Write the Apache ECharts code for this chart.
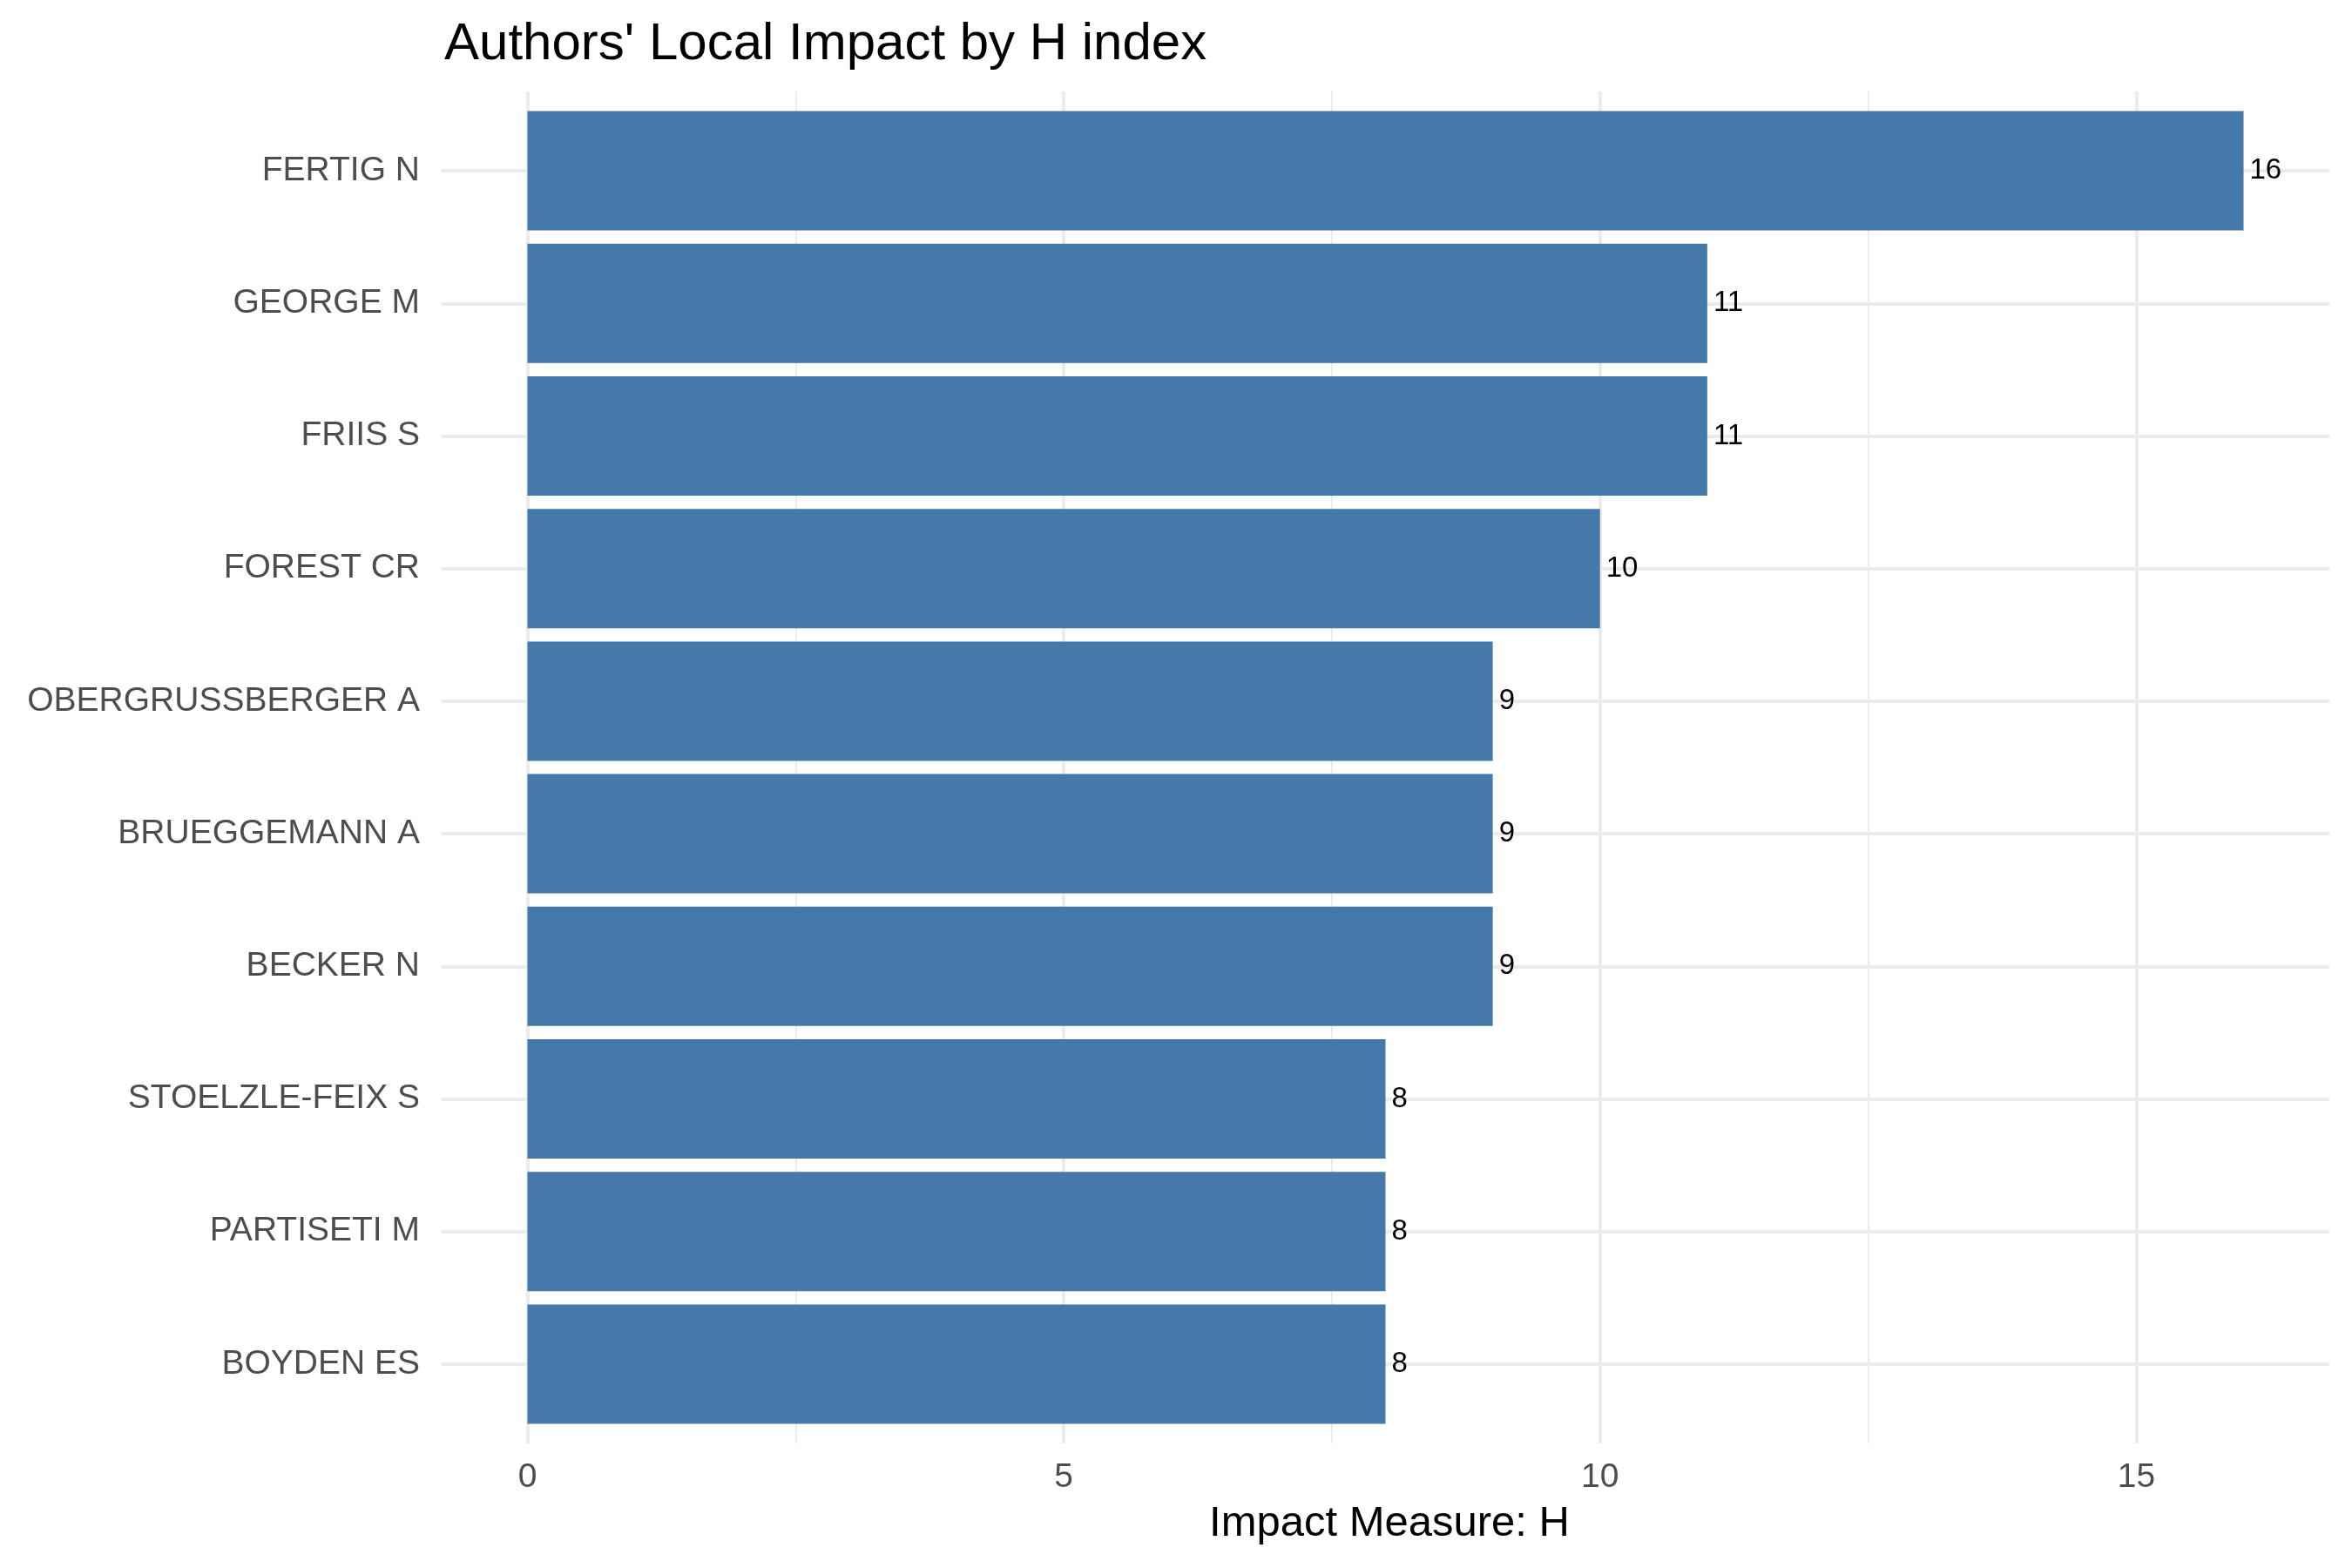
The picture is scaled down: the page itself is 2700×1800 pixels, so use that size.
<!DOCTYPE html>
<html>
<head>
<meta charset="utf-8">
<script src="https://cdn.jsdelivr.net/npm/echarts@6/dist/echarts.min.js"></script>
<style>
  html, body { margin: 0; padding: 0; background: #fff; }
  #chart { width: 2700px; height: 1800px; }
</style>
</head>
<body>
<div id="chart"></div>
<script>
// authors, top to bottom
const authors = [
  'FERTIG N', 'GEORGE M', 'FRIIS S', 'FOREST CR', 'OBERGRUSSBERGER A',
  'BRUEGGEMANN A', 'BECKER N', 'STOELZLE-FEIX S', 'PARTISETI M', 'BOYDEN ES'
];
const hIndex = [16, 11, 11, 10, 9, 9, 9, 8, 8, 8];
const majorTicks = [0, 5, 10, 15];
const minorTicks = [2.5, 7.5, 12.5];

const font = 'Liberation Sans, Arial, sans-serif';
const gridColor = '#EBEBEB';

const chart = echarts.init(document.getElementById('chart'));

const option = {
  backgroundColor: '#fff',
  animation: false,
  title: [
    {
      text: "Authors' Local Impact by H index",
      left: 505,
      top: 16,
      textStyle: { fontFamily: font, fontWeight: 'normal', fontSize: 60, color: '#000' }
    },
    {
      text: 'Impact Measure: H',
      left: 1590,
      top: 1720,
      textAlign: 'center',
      textStyle: { fontFamily: font, fontWeight: 'normal', fontSize: 49, color: '#000' }
    }
  ],
  grid: [
    // bars (inner band region)
    { left: 507, right: 26, top: 120, bottom: 158 },
    // full panel, for vertical gridlines and x labels
    { left: 507, right: 26, top: 105, bottom: 143 }
  ],
  xAxis: [
    {
      gridIndex: 0, type: 'value', min: -0.8, max: 16.8,
      show: false, splitLine: { show: false }
    },
    {
      gridIndex: 1, type: 'value', min: -0.8, max: 16.8,
      axisLine: { show: false },
      axisTick: { show: false },
      splitLine: { show: false },
      axisLabel: {
        customValues: majorTicks,
        margin: 20,
        fontFamily: font, fontSize: 39, color: '#4D4D4D'
      }
    }
  ],
  yAxis: [
    {
      gridIndex: 0, type: 'category', data: authors, inverse: true,
      axisLine: { show: false },
      axisTick: { show: false },
      splitLine: { show: false },
      axisLabel: { margin: 25, fontFamily: font, fontSize: 39, color: '#4D4D4D' }
    },
    {
      gridIndex: 1, type: 'value', min: 0, max: 1, show: false,
      splitLine: { show: false }
    }
  ],
  series: [
    {
      // vertical gridlines
      type: 'line', xAxisIndex: 1, yAxisIndex: 1, data: [], z: 0, silent: true,
      markLine: {
        z: 0, silent: true, symbol: 'none', label: { show: false },
        data: majorTicks.map(v => ({ xAxis: v, lineStyle: { color: gridColor, width: 4, type: 'solid' } }))
          .concat(minorTicks.map(v => ({ xAxis: v, lineStyle: { color: gridColor, width: 2, type: 'solid' } })))
      }
    },
    {
      // horizontal gridlines at category centres
      type: 'line', xAxisIndex: 0, yAxisIndex: 0, data: [], z: 0, silent: true,
      markLine: {
        z: 0, silent: true, symbol: 'none', label: { show: false },
        lineStyle: { color: gridColor, width: 4, type: 'solid' },
        data: authors.map(a => ({ yAxis: a }))
      }
    },
    {
      type: 'bar', xAxisIndex: 0, yAxisIndex: 0, z: 10,
      data: hIndex,
      barCategoryGap: '10%',
      itemStyle: { color: '#4479A9' },
      label: {
        show: true, position: 'right', distance: 7,
        fontFamily: font, fontSize: 33, color: '#000'
      }
    }
  ]
};

chart.setOption(option);
</script>
</body>
</html>
